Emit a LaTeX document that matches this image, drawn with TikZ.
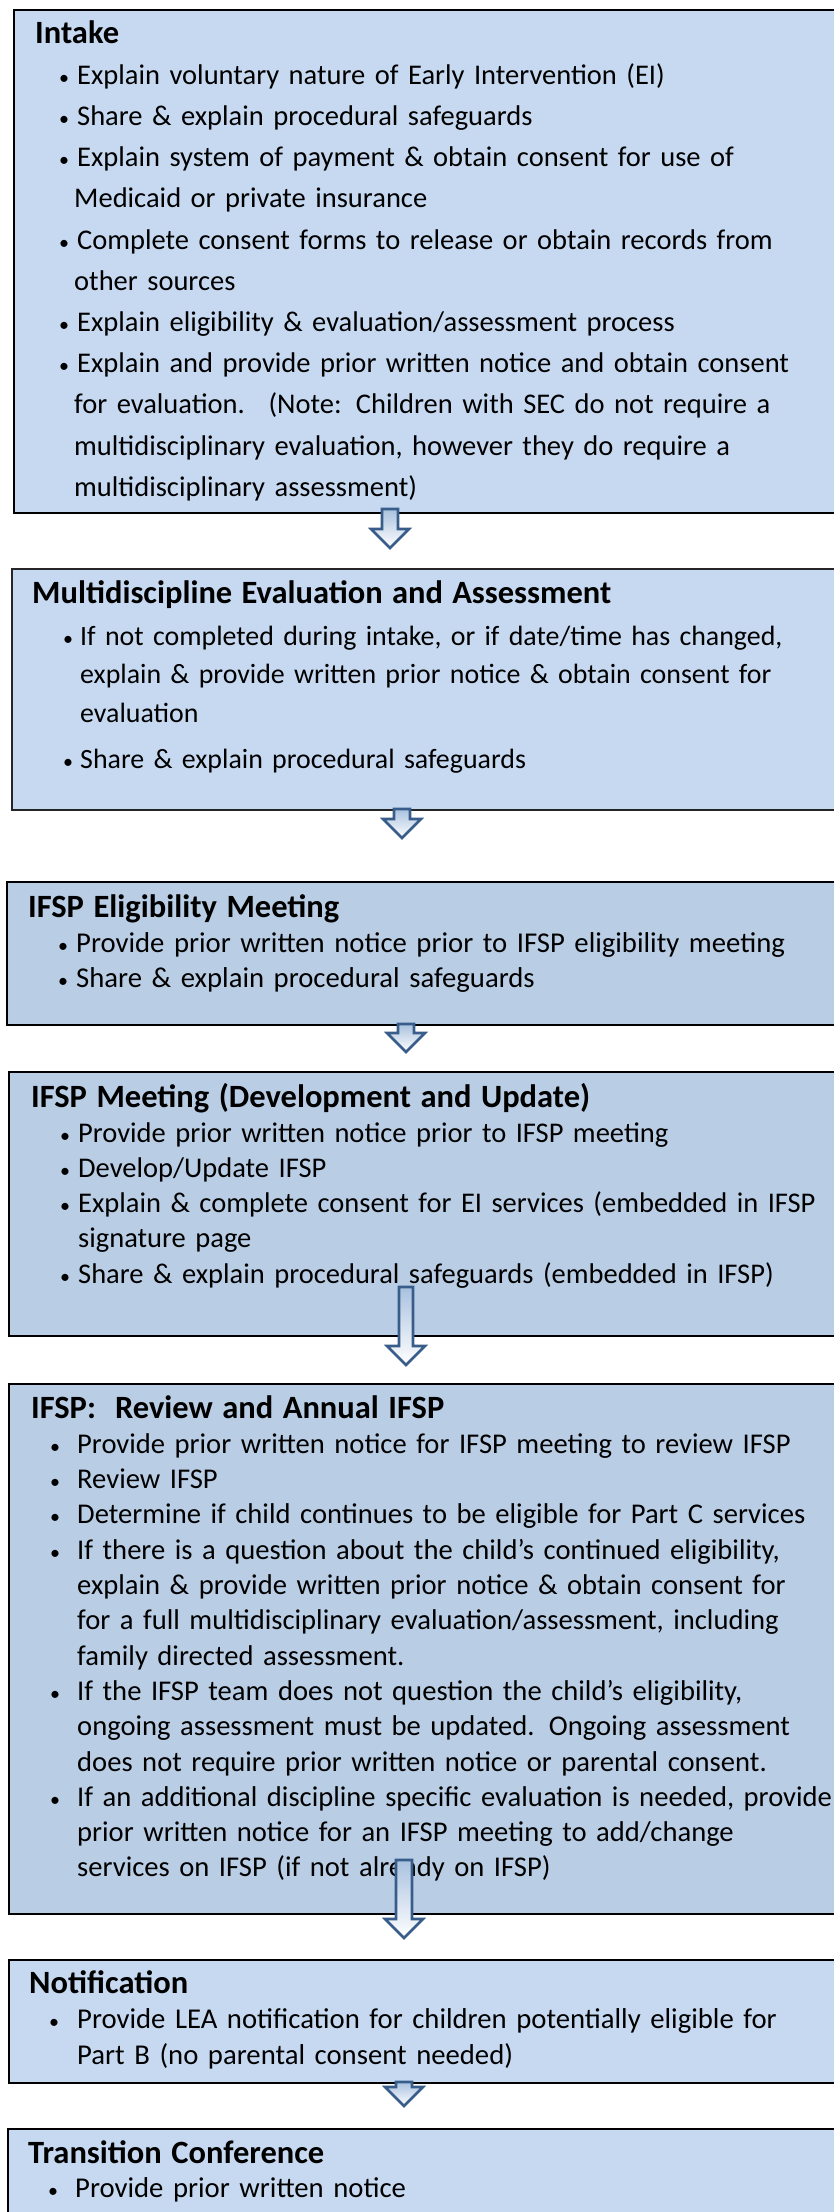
\documentclass[tikz,border=0pt]{standalone}
\usepackage{fontspec}
\setmainfont{Carlito}
\usetikzlibrary{calc}
\definecolor{boxlight}{HTML}{C6D9F1}
\definecolor{boxdark}{HTML}{B9CDE5}
\definecolor{arrowblue}{HTML}{385D8A}
\definecolor{arrowtop}{HTML}{A9C1DF}
\newlength\bdx \newlength\tdx \newlength\cdx
\newcommand\setind[3]{\setlength\bdx{#1pt}\setlength\tdx{#2pt}\setlength\cdx{#3pt}}
\newcommand\ttl[1]{{\fontsize{32.5}{40}\selectfont\bfseries #1}\par}
\newcommand\bulsym{{\fontsize{20}{20}\selectfont\textbullet}}
\newcommand\bl[1]{\hspace*{\bdx}\makebox[0pt][l]{\bulsym}\hspace*{\dimexpr\tdx-\bdx\relax}#1\par}
\newcommand\cl[1]{\hspace*{\cdx}#1\par}
\newcommand\barrow[3]{%
  \draw[blockarrow] ($(#1)+(-#3,0)$) -- ($(#1)+(#3,0)$) -- ($(#2)+(#3,-19)$) -- ($(#2)+(19,-19)$) -- (#2) -- ($(#2)+(-19,-19)$) -- ($(#2)+(-#3,-19)$) -- cycle;}
\tikzset{
  box/.style={draw=black, line width=1.8pt, inner sep=0pt, anchor=north west},
  txt/.style={anchor=base west, inner sep=0pt, text width=880pt, align=left},
  blockarrow/.style={draw=arrowblue, line width=2.6pt, line join=miter, top color=arrowtop, bottom color=white}
}
\begin{document}
\begin{tikzpicture}[x=1pt,y=-1pt]
\useasboundingbox (0,0) rectangle (834,2212);
% boxes
\node[box, fill=boxlight, line width=2.4pt, minimum width=900pt, minimum height=503pt] (intake) at (13,9) {};
\node[box, fill=boxlight, draw=black!85, minimum width=900pt, minimum height=241pt] (multi) at (11,568) {};
\node[box, fill=boxdark, minimum width=900pt, minimum height=143pt] (elig) at (6,881) {};
\node[box, fill=boxdark, minimum width=900pt, minimum height=264pt] (meet) at (8,1071) {};
\node[box, fill=boxdark, minimum width=900pt, minimum height=530pt] (review) at (8,1383) {};
\node[box, fill=boxlight, minimum width=900pt, minimum height=123pt] (notif) at (8,1959) {};
\node[box, fill=boxlight, minimum width=900pt, minimum height=130pt] (trans) at (7,2128) {};
% texts
\node[txt, font=\fontsize{28.5}{41.2}\selectfont] (intaket) at (35,43) {\setind{24}{42}{39}%
\ttl{Intake}
\bl{Explain voluntary nature of Early Intervention (EI)}
\bl{Share \& explain procedural safeguards}
\bl{Explain system of payment \& obtain consent for use of}
\cl{Medicaid or private insurance}
\bl{Complete consent forms to release or obtain records from}
\cl{other sources}
\bl{Explain eligibility \& evaluation/assessment process}
\bl{Explain and provide prior written notice and obtain consent}
\cl{for evaluation.~ (Note: Children with SEC do not require a}
\cl{multidisciplinary evaluation, however they do require a}
\cl{multidisciplinary assessment)}};
\node[txt, font=\fontsize{27.9}{38.7}\selectfont] (multit) at (32,603) {\setind{31}{48}{48}%
\ttl{Multidiscipline Evaluation and Assessment}\vspace{3.3pt}
\bl{If not completed during intake, or if date/time has changed,}
\cl{explain \& provide written prior notice \& obtain consent for}
\cl{evaluation}\vspace{7.3pt}
\bl{Share \& explain procedural safeguards}};
\node[txt, font=\fontsize{28.7}{35}\selectfont] (eligt) at (28,917) {\setind{30}{48}{48}%
\ttl{IFSP Eligibility Meeting}
\bl{Provide prior written notice prior to IFSP eligibility meeting}
\bl{Share \& explain procedural safeguards}};
\node[txt, font=\fontsize{28.5}{35.2}\selectfont] (meett) at (31,1107) {\setind{29}{47}{47}%
\ttl{IFSP Meeting (Development and Update)}
\bl{Provide prior written notice prior to IFSP meeting}
\bl{Develop/Update IFSP}
\bl{Explain \& complete consent for EI services (embedded in IFSP}
\cl{signature page}
\bl{Share \& explain procedural safeguards (embedded in IFSP)}};
\node[txt, font=\fontsize{28.6}{35.3}\selectfont] (reviewt) at (31,1418) {\setind{19}{46}{46}%
\ttl{IFSP:~ Review and Annual IFSP}
\bl{Provide prior written notice for IFSP meeting to review IFSP}
\bl{Review IFSP}
\bl{Determine if child continues to be eligible for Part C services}
\bl{If there is a question about the child’s continued eligibility,}
\cl{explain \& provide written prior notice \& obtain consent for}
\cl{for a full multidisciplinary evaluation/assessment, including}
\cl{family directed assessment.}
\bl{If the IFSP team does not question the child’s eligibility,}
\cl{ongoing assessment must be updated. Ongoing assessment}
\cl{does not require prior written notice or parental consent.}
\bl{If an additional discipline specific evaluation is needed, provide}
\cl{prior written notice for an IFSP meeting to add/change}
\cl{services on IFSP (if not already on IFSP)}};
\node[txt, font=\fontsize{28.7}{35.5}\selectfont] (notift) at (29,1993) {\setind{20}{48}{48}%
\ttl{Notification}
\bl{Provide LEA notification for children potentially eligible for}
\cl{Part B (no parental consent needed)}};
\node[txt, font=\fontsize{28.7}{34}\selectfont] (transt) at (28,2163) {\setind{20}{47}{47}%
\ttl{Transition Conference}
\bl{Provide prior written notice}};
% arrows
\coordinate (a1s) at (390,509); \coordinate (a1e) at (390,548);
\coordinate (a2s) at (402,809); \coordinate (a2e) at (402,838);
\coordinate (a3s) at (406,1024); \coordinate (a3e) at (406,1052);
\coordinate (a4s) at (406,1287); \coordinate (a4e) at (406,1365);
\coordinate (a5s) at (404,1860); \coordinate (a5e) at (404,1938);
\coordinate (a6s) at (404,2082); \coordinate (a6e) at (404,2106);
\barrow{a1s}{a1e}{8}
\barrow{a2s}{a2e}{8}
\barrow{a3s}{a3e}{8}
\barrow{a4s}{a4e}{7}
\barrow{a5s}{a5e}{8}
\barrow{a6s}{a6e}{8}
\end{tikzpicture}
\end{document}
